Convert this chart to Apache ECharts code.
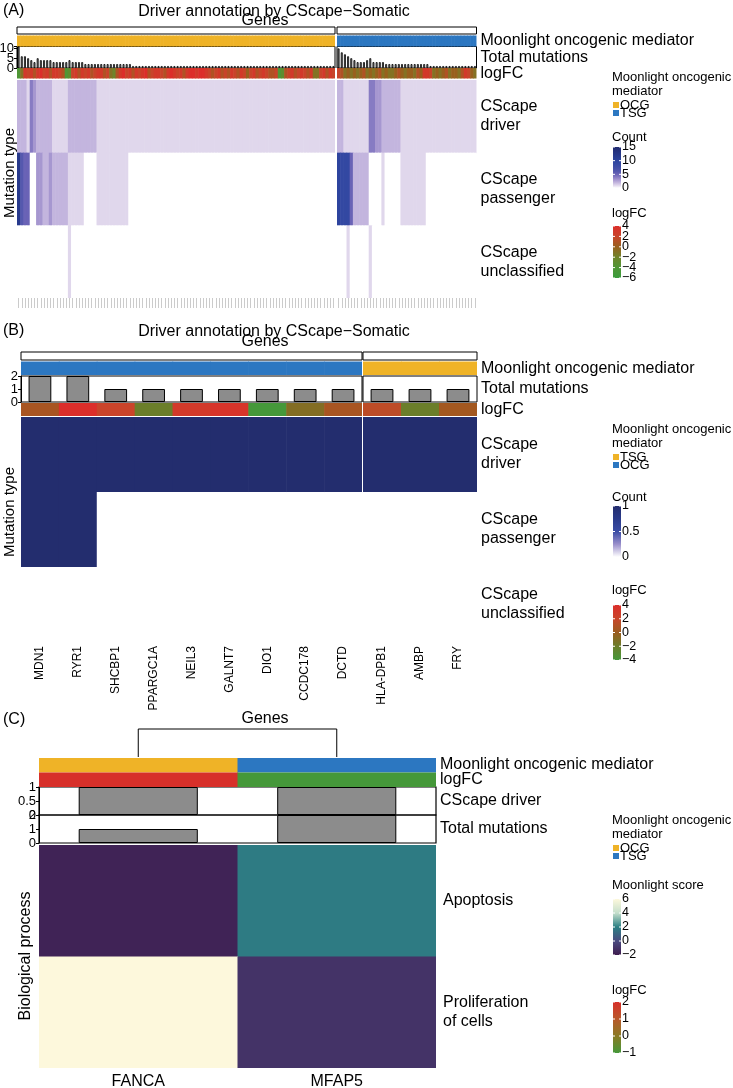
<!DOCTYPE html>
<html>
<head>
<meta charset="utf-8">
<script src="https://cdn.jsdelivr.net/npm/echarts@6/dist/echarts.min.js"></script>
<style>
html,body{margin:0;padding:0;background:#fff;}
#chart{width:733px;height:1088px;}
</style>
</head>
<body>
<div id="chart"></div>
<script>
// ================= DATA =================
const mutationTypes = ['CScape driver', 'CScape passenger', 'CScape unclassified'];
const moonCategories = ['OCG', 'TSG'];

// ---- Panel A, left slice (OCG) ----
const totalA_L = [
 11,6,6,5,4,3,5,4,4,4,
 4,3,3,3,3,3,4,3,3,3,
 3,2,2,2,2,2,2,2,2,2,
 2,2,2,2,2,2,1,1,1,1,
 1,1,1,1,1,1,1,1,1,1,
 1,1,1,1,1,1,1,1,1,1,
 1,1,1,1,1,1,1,1,1,1,
 1,1,1,1,1,1,1,1,1,1,
 1,1,1,1,1,1,1,1,1,1,
 1,1,1,1,1,1,1,1,1,1];
const driverA_L = [
 2,2,2,1,4,3,2,2,2,2,
 2,1,1,1,1,1,2,2,2,2,
 2,2,2,2,2,1,1,1,1,1,
 1,1,1,1,1,1,1,1,1,1,
 1,1,1,1,1,1,1,1,1,1,
 1,1,1,1,1,1,1,1,1,1,
 1,1,1,1,1,1,1,1,1,1,
 1,1,1,1,1,1,1,1,1,1,
 1,1,1,1,1,1,1,1,1,1,
 1,1,1,1,1,1,1,1,1,1];
const passengerA_L = [
 12,6,5,5,0,0,3,3,2,2,
 3,2,2,2,2,2,1,1,1,1,
 1,0,0,0,0,1,1,1,1,1,
 1,1,1,1,1,0,0,0,0,0,
 0,0,0,0,0,0,0,0,0,0,
 0,0,0,0,0,0,0,0,0,0,
 0,0,0,0,0,0,0,0,0,0,
 0,0,0,0,0,0,0,0,0,0,
 0,0,0,0,0,0,0,0,0,0,
 0,0,0,0,0,0,0,0,0,0];
const unclassA_L = [
 0,0,0,0,0,0,0,0,0,0,
 0,0,0,0,0,0,1,0,0,0,
 0,0,0,0,0,0,0,0,0,0,
 0,0,0,0,0,0,0,0,0,0,
 0,0,0,0,0,0,0,0,0,0,
 0,0,0,0,0,0,0,0,0,0,
 0,0,0,0,0,0,0,0,0,0,
 0,0,0,0,0,0,0,0,0,0,
 0,0,0,0,0,0,0,0,0,0,
 0,0,0,0,0,0,0,0,0,0];
const logfcA_L = [
 -4,-1,3,2,3,1,3,4,2,3,
 1,3,3,2,1,-4,-3,2,3,1,
 3,2,3,1,2,3,3,1,2,-1,
 -2,1,3,4,2,3,1,3,2,3,
 4,1,2,3,3,2,1,3,4,3,
 2,3,1,3,4,4,3,4,4,3,
 2,1,2,3,1,2,1,3,2,1,
 3,2,0,2,3,1,2,3,2,1,
 1,2,-4,-3,1,2,3,1,2,3,
 2,1,3,-1,-1,2,3,1,3,2];

// ---- Panel A, right slice (TSG) ----
const totalA_R = [
 10,8,7,6,5,4,3,3,3,4,
 5,3,3,3,3,2,2,2,2,2,
 2,2,2,2,2,2,2,2,2,1,
 1,1,1,1,1,1,1,1,1,1,
 1,1,1,1];
const driverA_R = [
 2,2,1,1,1,1,1,1,1,1,
 4,4,3,3,2,2,2,2,2,2,
 1,1,1,1,1,1,1,1,1,1,
 1,1,1,1,1,1,1,1,1,1,
 1,1,1,1];
const passengerA_R = [
 10,9,9,9,5,2,2,2,2,2,
 0,0,0,0,1,0,0,0,0,0,
 1,1,1,1,1,1,1,1,0,0,
 0,0,0,0,0,0,0,0,0,0,
 0,0,0,0];
const unclassA_R = [
 0,0,0,1,0,0,0,0,0,0,
 1,0,0,0,0,0,0,0,0,0,
 0,0,0,0,0,0,0,0,0,0,
 0,0,0,0,0,0,0,0,0,0,
 0,0,0,0];
const logfcA_R = [
 2,1,-1,0,-1,0,-1,0,1,-1,
 0,-1,0,1,-1,0,-1,-1,0,1,
 0,-1,0,0,-1,1,0,3,3,2,
 -1,0,-1,0,1,-1,0,0,-1,1,
 3,2,0,-1];

// ---- Panel B ----
const genesB_L = ['MDN1','RYR1','SHCBP1','PPARGC1A','NEIL3','GALNT7','DIO1','CCDC178','DCTD'];
const genesB_R = ['HLA-DPB1','AMBP','FRY'];
const totalB_L = [2,2,1,1,1,1,1,1,1];
const totalB_R = [1,1,1];
const logfcB_L = [0.6,4,2.2,-2,3,3.5,-4,-1,0.6];
const logfcB_R = [1.5,-2,0.4];
const driverB_L = [1,1,1,1,1,1,1,1,1];
const passengerB_L = [1,1,0,0,0,0,0,0,0];
const unclassB_L = [0,0,0,0,0,0,0,0,0];
const driverB_R = [1,1,1];
const passengerB_R = [0,0,0];
const unclassB_R = [0,0,0];

// ---- Panel C ----
const genesC = ['FANCA','MFAP5'];
const moonC = ['OCG','TSG'];
const logfcC = [2,-1];
const cscapeDriverC = [1,1];
const totalC = [1,2];
const processesC = ['Apoptosis','Proliferation of cells'];
const scoreApoptosisC = [-1.7,1.8];
const scoreProliferationC = [6.2,-1.0];

// ---- tick labels ----
const barTicksA = [0,5,10];
const barTicksB = [0,1,2];
const cscTicksC = [0,0.5,1];
const totTicksC = [0,1,2];
const countTicksA = [0,5,10,15];
const fcTicksA = [-6,-4,-2,0,2,4];
const countTicksB = [0,0.5,1];
const fcTicksB = [-4,-2,0,2,4];
const scoreTicksC = [-2,0,2,4,6];
const fcTicksC = [-1,0,1,2];

// ================= STYLE =================
const F = '"Liberation Sans", Arial, Helvetica, sans-serif';
const YEL = '#efb327', BLU = '#2c77c1';
const countPalA = ['#ffffff','#e0d7ec','#c3b5de','#a697d0','#877bc3','#6a63b6','#5558ae','#4751a8','#3c4ca5','#3348a2','#2d449e','#2a3f96','#27398c','#253483','#232f79','#212b6f'];
const fcPalA = ['#3a9c3c','#4f9636','#6f842a','#98601e','#c8442a','#dc2e2a'];
const countPalB = ['#ffffff','#9a8fcb','#3a4ca5','#2a3a8a','#232d6e'];
const fcPalB = ['#45983a','#6b7e2a','#9a5c1e','#c8462a','#dc2e2a'];
const scorePalC = ['#3e1c4e','#4a4a80','#2b8083','#c5dfcc','#fdf8dc'];
const fcPalC = ['#45983a','#8a7a24','#b8582a','#d7302a'];

const grid = [], xAxis = [], yAxis = [], series = [], visualMap = [], graphic = [];
const barAxes = [];

function addGrid(r, border) {
  grid.push({left: r.left, top: r.top, width: r.width, height: r.height, containLabel: false,
    outerBoundsMode: 'none', show: !!border, borderColor: '#000', borderWidth: border || 0,
    backgroundColor: 'rgba(0,0,0,0)'});
  return grid.length - 1;
}
function hideAx(extra) {
  return Object.assign({axisLine: {show: false}, axisTick: {show: false}, axisLabel: {show: false}, splitLine: {show: false}}, extra || {});
}
// heatmap cells drawn through the category scales; colour comes from the visualMap
function addHeat(r, cols, rows, matrix, xOpt, yOpt) {
  const gi = addGrid(r, 0);
  xAxis.push(hideAx(Object.assign({type: 'category', gridIndex: gi, data: cols}, xOpt || {})));
  yAxis.push(hideAx(Object.assign({type: 'category', gridIndex: gi, data: rows, inverse: true}, yOpt || {})));
  const data = [];
  matrix.forEach((rv, ri) => rv.forEach((v, ci) => data.push([ci, ri, v])));
  const nC = cols.length, nR = rows.length;
  series.push({type: 'custom', xAxisIndex: xAxis.length - 1, yAxisIndex: yAxis.length - 1, data,
    encode: {x: 0, y: 1}, silent: true,
    renderItem: function (params, api) {
      const ci = api.value(0), ri = api.value(1);
      const p = api.coord([ci, ri]);
      const s = api.size([1, 1]);
      return {type: 'rect',
        shape: {x: p[0] - s[0] / 2, y: p[1] - s[1] / 2,
          width: s[0] + (ci < nC - 1 ? 0.6 : 0), height: s[1] + (ri < nR - 1 ? 0.6 : 0)},
        style: {fill: api.visual('color')}};
    }});
  return series.length - 1;
}
function addBars(r, cols, vals, max, interval, ticks, showAxis, bw, gridBorder) {
  const gi = addGrid(r, gridBorder || 1);
  xAxis.push(hideAx({type: 'category', gridIndex: gi, data: cols}));
  yAxis.push({type: 'value', gridIndex: gi, min: 0, max: max, interval: interval,
    splitLine: {show: false},
    axisLine: {show: showAxis, lineStyle: {color: '#000', width: 1}},
    axisTick: {show: showAxis, length: 3, lineStyle: {color: '#000'}},
    axisLabel: {show: false}});
  if (showAxis) barAxes.push({yi: yAxis.length - 1, ticks: ticks, x: r.left - 3});
  series.push({type: 'bar', xAxisIndex: xAxis.length - 1, yAxisIndex: yAxis.length - 1, data: vals,
    barWidth: '60%', itemStyle: {color: '#8c8c8c', borderColor: '#000', borderWidth: bw}, silent: true});
  return series.length - 1;
}
function T(x, y, text, size, o) {
  o = o || {};
  graphic.push({type: 'text', x: x, y: y, rotation: o.rot || 0, silent: true, z: 10,
    style: {text: text, fontSize: size, fontFamily: F, fill: '#000', align: o.align || 'left',
      verticalAlign: o.va || 'middle', lineHeight: o.lh || undefined}});
}
function R(x, y, w, h, fill, stroke, lw) {
  graphic.push({type: 'rect', silent: true, shape: {x: x, y: y, width: w, height: h},
    style: {fill: fill, stroke: stroke || null, lineWidth: lw || 0}});
}
function fmt(v) { return v < 0 ? '\u2212' + Math.abs(v) : String(v); }
function colorbar(x, yTop, yBot, min, max, pal, ticks) {
  const stops = pal.map((c, i) => ({offset: i / (pal.length - 1), color: c}));
  graphic.push({type: 'rect', silent: true, shape: {x: x, y: yTop, width: 8, height: yBot - yTop},
    style: {fill: {type: 'linear', x: 0, y: 1, x2: 0, y2: 0, colorStops: stops}}});
  ticks.forEach(t => {
    const y = yBot - (t - min) / (max - min) * (yBot - yTop);
    graphic.push({type: 'line', silent: true, shape: {x1: x, y1: y, x2: x + 2, y2: y}, style: {stroke: '#fff', lineWidth: 1}});
    graphic.push({type: 'line', silent: true, shape: {x1: x + 6, y1: y, x2: x + 8, y2: y}, style: {stroke: '#fff', lineWidth: 1}});
    T(x + 9, y, fmt(t), 12.5);
  });
}
function moonLegend(x, y, cats, colors) {
  T(x - 1, y, 'Moonlight oncogenic', 13);
  T(x - 1, y + 14.5, 'mediator', 13);
  cats.forEach((c, i) => {
    R(x, y + 25 + i * 8, 6, 6, colors[c]);
    T(x + 7, y + 28 + i * 8, c, 13);
  });
}

// ================= PANELS A & B =================
function buildPanel(P) {
  const moonS = [], cntS = [], fcS = [];
  P.slices.forEach((s, k) => {
    const L = P.layout[k];
    const last = k === P.slices.length - 1;
    R(L.left, P.box[0], L.width, P.box[1] - P.box[0], '#fff', '#000', 1);
    moonS.push(addHeat({left: L.left, top: P.moon[0], width: L.width, height: P.moon[1]}, s.genes, ['moon'],
      [s.genes.map(() => moonCategories.indexOf(s.moon))]));
    addBars({left: L.left, top: P.bar[0], width: L.width, height: P.bar[1]}, s.genes, s.total,
      P.barMax, P.barInterval, P.barTicks, k === 0, P.barBorder);
    fcS.push(addHeat({left: L.left, top: P.fc[0], width: L.width, height: P.fc[1]}, s.genes, ['logFC'], [s.logfc]));
    const yOpt = last ? {position: 'right', axisLabel: {show: true, fontSize: 16, fontFamily: F, color: '#000',
      margin: 4, lineHeight: 19, formatter: v => v.replace(' ', '\n')}} : {};
    cntS.push(addHeat({left: L.left, top: P.hm[0], width: L.width, height: P.hm[1]}, s.genes, mutationTypes,
      s.matrix, P.xOpt, yOpt));
    if (last) {
      const rx = L.left + L.width + 4;
      T(rx, P.moon[0] + P.moon[1] / 2, 'Moonlight oncogenic mediator', 16);
      T(rx, P.bar[0] + P.bar[1] / 2, 'Total mutations', 16);
      T(rx, P.fc[0] + P.fc[1] / 2, 'logFC', 16);
    }
  });
  visualMap.push({type: 'piecewise', show: false, dimension: 2, seriesIndex: moonS,
    pieces: moonCategories.map((c, i) => ({value: i, color: P.moonColors[c]}))});
  visualMap.push({type: 'continuous', show: false, dimension: 2, seriesIndex: cntS, min: P.cntMin, max: P.cntMax,
    inRange: {color: P.cntPal}});
  visualMap.push({type: 'continuous', show: false, dimension: 2, seriesIndex: fcS, min: P.fcMin, max: P.fcMax,
    inRange: {color: P.fcPal}});
}

const genesA_L = totalA_L.map((_, i) => 'A_L' + (i + 1));
const genesA_R = totalA_R.map((_, i) => 'A_R' + (i + 1));

buildPanel({
  box: [27, 34], moon: [35.5, 11], bar: [46.5, 21.5], fc: [68, 10.5], hm: [80, 218],
  layout: [{left: 17, width: 318}, {left: 337, width: 139.5}],
  slices: [
    {genes: genesA_L, moon: 'OCG', total: totalA_L, logfc: logfcA_L, matrix: [driverA_L, passengerA_L, unclassA_L]},
    {genes: genesA_R, moon: 'TSG', total: totalA_R, logfc: logfcA_R, matrix: [driverA_R, passengerA_R, unclassA_R]}
  ],
  moonColors: {OCG: YEL, TSG: BLU},
  barMax: 11, barInterval: 5, barTicks: barTicksA, barBorder: 0.8,
  cntMin: 0, cntMax: 15, cntPal: countPalA, fcMin: -6, fcMax: 4, fcPal: fcPalA,
  xOpt: {axisTick: {show: true, interval: 0, alignWithLabel: true, length: 10, lineStyle: {color: '#b5b5b5', width: 0.7}},
    axisLabel: {show: false, interval: 0}}
});

buildPanel({
  box: [352, 360], moon: [361.5, 13.5], bar: [376, 26], fc: [403, 13], hm: [417, 225],
  layout: [{left: 21, width: 341}, {left: 363, width: 114}],
  slices: [
    {genes: genesB_L, moon: 'OCG', total: totalB_L, logfc: logfcB_L, matrix: [driverB_L, passengerB_L, unclassB_L]},
    {genes: genesB_R, moon: 'TSG', total: totalB_R, logfc: logfcB_R, matrix: [driverB_R, passengerB_R, unclassB_R]}
  ],
  moonColors: {OCG: BLU, TSG: YEL},
  barMax: 2, barInterval: 1, barTicks: barTicksB, barBorder: 1,
  cntMin: 0, cntMax: 1, cntPal: countPalB, fcMin: -4, fcMax: 4, fcPal: fcPalB,
  xOpt: {axisLabel: {show: true, interval: 0, rotate: 90, fontSize: 12, fontFamily: F, color: '#000', margin: 4}}
});

// titles A & B
T(3, 11, '(A)', 16);
T(274, 11.5, 'Driver annotation by CScape\u2212Somatic', 16, {align: 'center'});
T(265, 21, 'Genes', 16, {align: 'center'});
T(9.5, 173, 'Mutation type', 15, {align: 'center', rot: Math.PI / 2});
T(3, 331, '(B)', 16);
T(274, 331.5, 'Driver annotation by CScape\u2212Somatic', 16, {align: 'center'});
T(265, 342, 'Genes', 16, {align: 'center'});
T(10, 512, 'Mutation type', 15, {align: 'center', rot: Math.PI / 2});

// legends A
moonLegend(613, 77, ['OCG', 'TSG'], {OCG: YEL, TSG: BLU});
T(612, 137, 'Count', 13);
colorbar(613, 147, 188, 0, 15, countPalA, countTicksA);
T(612, 213, 'logFC', 13);
colorbar(613, 226, 278, -6, 4, fcPalA, fcTicksA);
// legends B
moonLegend(613, 429, ['TSG', 'OCG'], {OCG: BLU, TSG: YEL});
T(612, 497, 'Count', 13);
colorbar(613, 506, 557, 0, 1, countPalB, countTicksB);
T(612, 590, 'logFC', 13);
colorbar(613, 605, 660, -4, 4, fcPalB, fcTicksB);

// ================= PANEL C =================
const CL = 39, CW = 397;
const moonCS = addHeat({left: CL, top: 758, width: CW, height: 14.5}, genesC, ['moon'],
  [moonC.map(c => moonCategories.indexOf(c))]);
const fcCS = addHeat({left: CL, top: 772.5, width: CW, height: 14.5}, genesC, ['logFC'], [logfcC]);
addBars({left: CL, top: 787, width: CW, height: 28}, genesC, cscapeDriverC, 1, 0.5, cscTicksC, true, 1, 1.2);
addBars({left: CL, top: 815, width: CW, height: 28}, genesC, totalC, 2, 1, totTicksC, true, 1, 1.2);
const hmC = addHeat({left: CL, top: 845, width: CW, height: 223}, genesC, processesC,
  [scoreApoptosisC, scoreProliferationC],
  {axisLabel: {show: true, interval: 0, fontSize: 16, fontFamily: F, color: '#000', margin: 6}},
  {position: 'right', axisLabel: {show: true, fontSize: 16, fontFamily: F, color: '#000', margin: 7,
    lineHeight: 19, formatter: v => v.replace(' ', '\n')}});
const hmCx = xAxis.length - 1;
visualMap.push({type: 'piecewise', show: false, dimension: 2, seriesIndex: [moonCS],
  pieces: moonCategories.map((c, i) => ({value: i, color: {OCG: YEL, TSG: BLU}[c]}))});
visualMap.push({type: 'continuous', show: false, dimension: 2, seriesIndex: [fcCS], min: -1, max: 2, inRange: {color: fcPalC}});
visualMap.push({type: 'continuous', show: false, dimension: 2, seriesIndex: [hmC], min: -2, max: 6, inRange: {color: scorePalC}});

T(3, 720, '(C)', 16);
T(265, 719, 'Genes', 16, {align: 'center'});
T(26, 956, 'Biological process', 16, {align: 'center', rot: Math.PI / 2});
T(440, 765, 'Moonlight oncogenic mediator', 16);
T(440, 780, 'logFC', 16);
T(440, 801, 'CScape driver', 16);
T(440, 829, 'Total mutations', 16);
moonLegend(613, 820, ['OCG', 'TSG'], {OCG: YEL, TSG: BLU});
T(612, 885, 'Moonlight score', 13);
colorbar(613, 899, 955, -2, 6, scorePalC, scoreTicksC);
T(612, 990, 'logFC', 13);
colorbar(613, 1002, 1053, -1, 2, fcPalC, fcTicksC);

// ================= RENDER =================
const chart = echarts.init(document.getElementById('chart'), null, {renderer: 'canvas', width: 733, height: 1088});
chart.setOption({animation: false, backgroundColor: '#fff', grid, xAxis, yAxis, series, visualMap, graphic});

// bar-axis tick labels placed from the value axes (avoids automatic overlap hiding)
barAxes.forEach(b => b.ticks.forEach(t => {
  const y = chart.convertToPixel({yAxisIndex: b.yi}, t);
  T(b.x, y, String(t), 13, {align: 'right'});
}));
// dendrogram for panel C from the axis positions
const dx0 = chart.convertToPixel({xAxisIndex: hmCx}, genesC[0]);
const dx1 = chart.convertToPixel({xAxisIndex: hmCx}, genesC[1]);
graphic.push({type: 'polyline', silent: true, shape: {points: [[dx0, 757], [dx0, 729], [dx1, 729], [dx1, 757]]},
  style: {stroke: '#000', lineWidth: 1, fill: null}});
chart.setOption({graphic: graphic});
</script>
</body>
</html>
